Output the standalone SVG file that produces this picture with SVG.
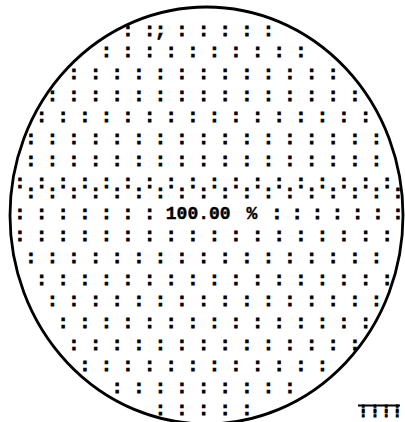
<svg xmlns="http://www.w3.org/2000/svg" width="405" height="422" viewBox="0 0 405 422">
<style>
.c{font-family:"Liberation Mono","Courier New",monospace;font-size:18px;font-weight:bold;fill:#000;stroke:#000;stroke-width:0.9;text-anchor:middle}
.m{font-family:"Liberation Mono","Courier New",monospace;font-size:14px;font-weight:bold;fill:#000;stroke:#000;stroke-width:0.9;text-anchor:middle}
.t{font-family:"Liberation Mono","Courier New",monospace;font-size:18px;font-weight:bold;fill:#000;stroke:#000;stroke-width:0.4}
</style>
<rect width="405" height="422" fill="#fff"/>
<g id="wafer">
<ellipse cx="206.5" cy="215.5" rx="196.5" ry="208.5" fill="none" stroke="#000" stroke-width="2.8"/>
</g>
<g id="dies">
<text class="c" y="35.5" x="128 149.6 160.4 182 203.6 225.2 246.8 268.4">::;:::::</text>
<text class="c" y="57.2" x="106.4 128 149.6 171.2 192.8 214.4 236 257.6 279.2 300.8">::::::::::</text>
<text class="c" y="78.5" x="74 95.6 117.2 138.8 160.4 182 203.6 225.2 246.8 268.4 290 311.6 333.2">:::::::::::::</text>
<text class="c" y="100.5" x="52.4 74 95.6 117.2 138.8 160.4 182 203.6 225.2 246.8 268.4 290 311.6 333.2 354.8">:::::::::::::::</text>
<text class="c" y="121.5" x="41.6 63.2 84.8 106.4 128 149.6 171.2 192.8 214.4 236 257.6 279.2 300.8 322.4 344 365.6">::::::::::::::::</text>
<text class="c" y="143.5" x="30.8 52.4 74 95.6 117.2 138.8 160.4 182 203.6 225.2 246.8 268.4 290 311.6 333.2 354.8 376.4">:::::::::::::::::</text>
<text class="c" y="166.2" x="30.8 52.4 74 95.6 117.2 138.8 160.4 182 203.6 225.2 246.8 268.4 290 311.6 333.2 354.8 376.4">:::::::::::::::::</text>
<text class="c" x="20 30.8 41.6 52.4 63.2 74 84.8 95.6 106.4 117.2 128 138.8 149.6 160.4 171.2 182 192.8 203.6 214.4 225.2 236 246.8 257.6 268.4 279.2 290 300.8 311.6 322.4 333.2 344 354.8 365.6 376.4 387.2 398" y="187.5 197.5 187.5 197.5 187.5 197.5 187.5 197.5 187.5 197.5 187.5 197.5 187.5 197.5 187.5 197.5 187.5 197.5 187.5 197.5 187.5 197.5 187.5 197.5 187.5 197.5 187.5 197.5 187.5 197.5 187.5 197.5 187.5 197.5 187.5 197.5">::::::::::::::::::::::::::::::::::::</text>
<text class="c" y="218.5" x="20 41.6 63.2 84.8 106.4 128 149.6">:::::::</text>
<text class="c" y="218.5" x="277 297.2 317.3 337.5 357.7 377.8 398">:::::::</text>
<text class="c" y="240.5" x="20 41.6 63.2 84.8 106.4 128 149.6 171.2 192.8 214.4 236 257.6 279.2 300.8 322.4 344 365.6 387.2">::::::::::::::::::</text>
<text class="c" y="262.5" x="30.8 52.4 74 95.6 117.2 138.8 160.4 182 203.6 225.2 246.8 268.4 290 311.6 333.2 354.8 376.4">:::::::::::::::::</text>
<text class="c" y="284.5" x="41.6 63.2 84.8 106.4 128 149.6 171.2 192.8 214.4 236 257.6 279.2 300.8 322.4 344 365.6 387.2">:::::::::::::::::</text>
<text class="c" y="306.2" x="52.4 74 95.6 117.2 138.8 160.4 182 203.6 225.2 246.8 268.4 290 311.6 333.2 354.8 376.4">::::::::::::::::</text>
<text class="c" y="328.2" x="63.2 84.8 106.4 128 149.6 171.2 192.8 214.4 236 257.6 279.2 300.8 322.4 344 365.6">:::::::::::::::</text>
<text class="c" y="349.5" x="74 95.6 117.2 138.8 160.4 182 203.6 225.2 246.8 268.4 290 311.6 333.2 354.8">::::::::::::::</text>
<text class="c" y="371.2" x="84.8 106.4 128 149.6 171.2 192.8 214.4 236 257.6 279.2 300.8 322.4">::::::::::::</text>
<text class="c" y="392.5" x="117.2 138.8 160.4 182 203.6 225.2 246.8 268.4 290">:::::::::</text>
<text class="c" y="414.5" x="160.4 182 203.6 225.2 246.8">:::::</text>
</g>
<g id="label">
<text class="t" x="165.8" y="218.5">100.00 <tspan dx="5">%</tspan></text>
</g>
<g id="mark">
<line x1="358" y1="405.5" x2="400" y2="405.5" stroke="#000" stroke-width="2.2"/>
<text class="m" x="363.3 363.3 375 375 386.2 386.2 397.3 397.3" y="412.5 417 412.5 417 412.5 417 412.5 417">::::::::</text>
</g>
</svg>
